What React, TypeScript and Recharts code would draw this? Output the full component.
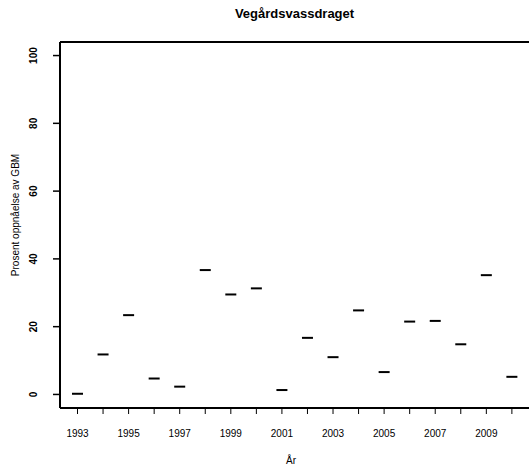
import {
  ComposedChart,
  Scatter,
  XAxis,
  YAxis,
  ReferenceLine
} from 'recharts'

const years = [
  1993, 1994, 1995, 1996, 1997, 1998, 1999, 2000, 2001,
  2002, 2003, 2004, 2005, 2006, 2007, 2008, 2009, 2010
];
const percent = [
  0.2, 11.8, 23.4, 4.7, 2.3, 36.7, 29.5, 31.3, 1.3,
  16.7, 11.0, 24.8, 6.6, 21.5, 21.7, 14.8, 35.2, 5.2
];
const yTicks = [0, 20, 40, 60, 80, 100];
const labeledYears = [1993, 1995, 1997, 1999, 2001, 2003, 2005, 2007, 2009];

const FONT = '"Liberation Sans", Arial, sans-serif';

const data = years.map((year, i) => ({ year, value: percent[i] }));

// short horizontal dash, like a collapsed boxplot median
const Dash = (props: any) => {
  const { cx, cy } = props;
  return <line x1={cx - 5.5} x2={cx + 5.5} y1={cy} y2={cy} stroke="#000" strokeWidth={2} />;
};

const XTick = ({ x, y, payload }: any) => {
  if (!labeledYears.includes(payload.value)) return null;
  return (
    <text x={x} y={y + 21} textAnchor="middle" fontFamily={FONT} fontSize={10} fill="#000">
      {payload.value}
    </text>
  );
};

const YTick = ({ y, payload }: any) => (
  <text
    x={37}
    y={y}
    transform={`rotate(-90, 37, ${y})`}
    textAnchor="middle"
    fontFamily={FONT}
    fontSize={10}
    fontWeight="bold"
    fill="#000"
  >
    {payload.value}
  </text>
);

export default function App() {
  return (
    <div style={{ position: 'absolute', left: 0, top: 0, width: 529, height: 467, background: '#fff' }}>
      <div
        style={{
          position: 'absolute',
          left: 60,
          width: 469,
          top: 6,
          textAlign: 'center',
          fontFamily: FONT,
          fontWeight: 'bold',
          fontSize: 13,
          color: '#000'
        }}
      >
        Vegårdsvassdraget
      </div>
      <ComposedChart
        width={529}
        height={467}
        data={data}
        margin={{ top: 42, right: 0, bottom: 0, left: 0 }}
      >
        <XAxis
          dataKey="year"
          type="number"
          domain={[1992.315, 2010.67]}
          ticks={years}
          interval={0}
          height={59}
          tick={<XTick />}
          tickSize={6}
          axisLine={{ stroke: '#000', strokeWidth: 2 }}
          tickLine={{ stroke: '#000', strokeWidth: 1 }}
          allowDataOverflow
          label={{
            content: () => (
              <text x={291} y={464} textAnchor="middle" fontFamily={FONT} fontSize={10} fill="#000">
                År
              </text>
            )
          }}
        />
        <YAxis
          dataKey="value"
          type="number"
          domain={[-4, 104]}
          ticks={yTicks}
          width={60}
          tick={<YTick />}
          tickSize={7}
          axisLine={{ stroke: '#000', strokeWidth: 2 }}
          tickLine={{ stroke: '#000', strokeWidth: 1.5 }}
          allowDataOverflow
          label={{
            content: () => (
              <text
                x={19}
                y={215}
                transform="rotate(-90, 19, 215)"
                textAnchor="middle"
                fontFamily={FONT}
                fontSize={10}
                fill="#000"
              >
                Prosent oppnåelse av GBM
              </text>
            )
          }}
        />
        <ReferenceLine y={104} stroke="#000" strokeWidth={2} ifOverflow="visible" />
        <Scatter dataKey="value" shape={<Dash />} isAnimationActive={false} />
      </ComposedChart>
    </div>
  );
}
